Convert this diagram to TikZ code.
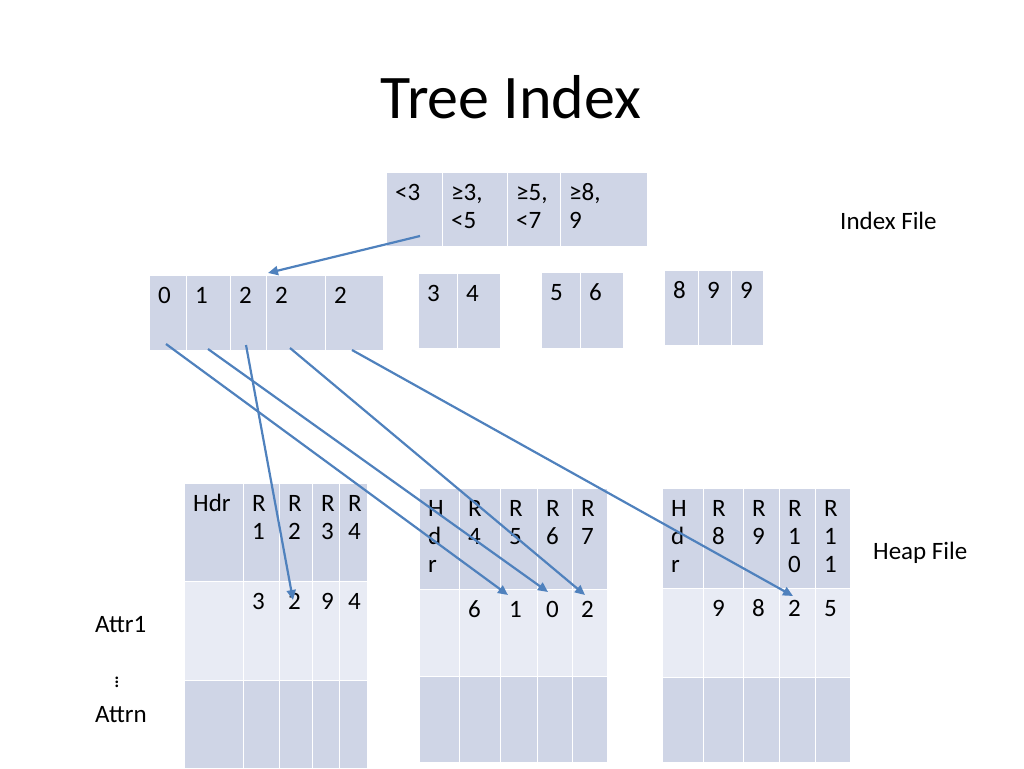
\documentclass[tikz,border=0pt]{standalone}
\usepackage{fontspec}
\setmainfont{Carlito}
\usetikzlibrary{arrows.meta, positioning}
\definecolor{cellblue}{HTML}{CFD5E6}
\definecolor{celllight}{HTML}{E8EBF4}
\definecolor{arrowblue}{HTML}{4F81BD}
\tikzset{
  dark/.style={draw=white,line width=1.2pt,fill=cellblue,rectangle,inner sep=0pt},
  light/.style={draw=white,line width=1.2pt,fill=celllight,rectangle,inner sep=0pt},
  txt/.style={inner sep=0pt,align=left,font=\fontsize{25}{28}\selectfont},
  ptr/.style={arrowblue,line width=2.2pt,-{Triangle[length=10pt,width=9pt]}}
}
% cell: name, x1, y1, x2, y2, style, text
\newcommand{\cell}[7]{%
  \node[#6,anchor=north west,minimum width={(#4-#2)*1pt},minimum height={(#5-#3)*1pt}] (#1) at (#2,#3) {};
  \node[txt,anchor=north west] (#1t) at ([xshift=9pt,yshift=-11pt]#1.north west) {\vphantom{Hd}#7};}

\begin{document}
\begin{tikzpicture}[x=1pt,y=-1pt]
    \useasboundingbox (0,0) rectangle (1024,768);
    \node[font=\fontsize{62}{66}\selectfont] (title) at (511,97) {Tree Index};
    % index
    \foreach \n/\a/\b/\t in {0/386/442/{<3},1/442/507/{≥3,\\<5},2/507/560/{≥5,\\<7},3/560/647/{≥8,\\9}}
        \cell{r\n}{\a}{172}{\b}{246}{dark}{\t};
    \foreach \n/\a/\b/\t in {0/149/186/0,1/186/230/1,2/230/266/2,3/266/325/2,4/325/383/2}
        \cell{la\n}{\a}{275}{\b}{350}{dark}{\t};
    \foreach \n/\a/\b/\t in {0/418/457/3,1/457/500/4}
        \cell{lb\n}{\a}{273}{\b}{348}{dark}{\t};
    \foreach \n/\a/\b/\t in {0/541/580/5,1/580/623/6}
        \cell{lc\n}{\a}{272}{\b}{348}{dark}{\t};
    \foreach \n/\a/\b/\t in {0/664/698/8,1/698/731/9,2/731/763/9}
        \cell{ld\n}{\a}{270}{\b}{345}{dark}{\t};
    \node[txt,anchor=west] (index) at (840,221) {Index File};
    % heap pages
    \foreach \n/\a/\b/\t/\v in {0/184/243/Hdr/{},1/243/279/{R\\1}/3,2/279/312/{R\\2}/2,3/312/339/{R\\3}/9,4/339/367/{R\\4}/4}{
        \cell{ha\n}{\a}{483}{\b}{581}{dark}{\t}
        \cell{hav\n}{\a}{581}{\b}{680}{light}{\v}
        \cell{haw\n}{\a}{680}{\b}{768}{dark}{}
    }
    \foreach \n/\a/\b/\t/\v in {0/419/459/{H\\d\\r}/{},1/459/500/{R\\4}/6,2/500/537/{R\\5}/1,3/537/572/{R\\6}/0,4/572/607/{R\\7}/2}{
        \cell{hb\n}{\a}{488}{\b}{589}{dark}{\t}
        \cell{hbv\n}{\a}{589}{\b}{676}{light}{\v}
        \cell{hbw\n}{\a}{676}{\b}{762}{dark}{}
    }
    \foreach \n/\a/\b/\t/\v in {0/662/703/{H\\d\\r}/{},1/703/743/{R\\8}/9,2/743/779/{R\\9}/8,3/779/815/{R\\1\\0}/2,4/815/850/{R\\1\\1}/5}{
        \cell{hc\n}{\a}{488}{\b}{588}{dark}{\t}
        \cell{hcv\n}{\a}{588}{\b}{677}{light}{\v}
        \cell{hcw\n}{\a}{677}{\b}{762}{dark}{}
    }
    \node[txt,anchor=west] (heap) at (873,553) {Heap File};
    \node[txt,anchor=west] (attr1) at (95,625) {Attr1};
    \node[inner sep=0pt,font=\fontsize{22}{22}\selectfont] (dots) at (117,679) {$\vdots$};
    \node[txt,anchor=west] (attrn) at (95,715) {Attrn};
    % pointers
    \coordinate (p0) at (420,236);  \coordinate (q0) at (268,273);
    \coordinate (p1) at (166,344);  \coordinate (q1) at (508,595);
    \coordinate (p2) at (208,349);  \coordinate (q2) at (548,592);
    \coordinate (p3) at (246,345);  \coordinate (q3) at (293,600);
    \coordinate (p4) at (290,348);  \coordinate (q4) at (585,595);
    \coordinate (p5) at (352,350);  \coordinate (q5) at (793,596);
    \foreach \i in {0,...,5}
        \draw[ptr] (p\i) -- (q\i);
\end{tikzpicture}
\end{document}
